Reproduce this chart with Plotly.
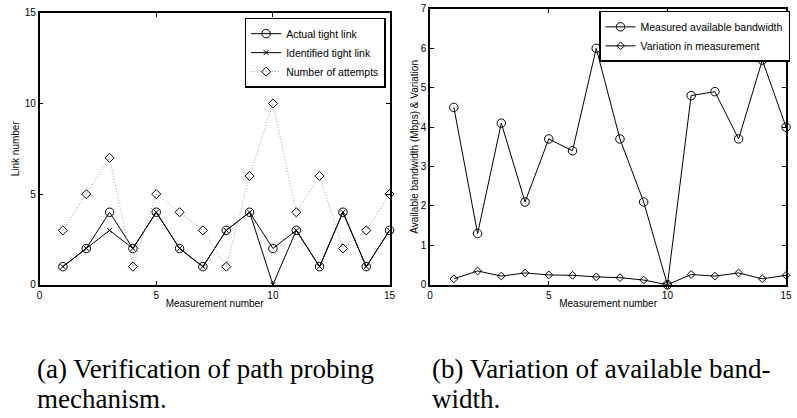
import plotly.graph_objects as go

# ---- data ----
measurement = list(range(1, 16))
actual_tight_link = [1, 2, 4, 2, 4, 2, 1, 3, 4, 2, 3, 1, 4, 1, 3]
identified_tight_link = [1, 2, 3, 2, 4, 2, 1, 3, 4, 0, 3, 1, 4, 1, 3]
number_of_attempts = [3, 5, 7, 1, 5, 4, 3, 1, 6, 10, 4, 6, 2, 3, 5]

measured_bandwidth = [4.5, 1.3, 4.1, 2.1, 3.7, 3.4, 6.0, 3.7, 2.1, 0.0, 4.8, 4.9, 3.7, 5.7, 4.0]
variation = [0.15, 0.35, 0.22, 0.30, 0.25, 0.24, 0.20, 0.18, 0.12, 0.0, 0.26, 0.22, 0.30, 0.15, 0.24]

left_ticks = [0, 5, 10, 15]
right_yticks = [0, 1, 2, 3, 4, 5, 6, 7]

W, H = 797, 418
SANS = "Liberation Sans, Arial, sans-serif"
SERIF = "Liberation Serif, Times New Roman, serif"

fig = go.Figure()

# ---- left panel ----
fig.add_trace(go.Scatter(
    x=measurement, y=actual_tight_link, name="Actual tight link",
    mode="lines+markers", line=dict(color="black", width=1),
    marker=dict(symbol="circle-open", size=8.5, color="black", line=dict(width=1)),
    xaxis="x", yaxis="y", legend="legend", cliponaxis=False))
fig.add_trace(go.Scatter(
    x=measurement, y=identified_tight_link, name="Identified tight link",
    mode="lines+markers", line=dict(color="black", width=1),
    marker=dict(symbol="x-thin-open", size=5, color="black", line=dict(width=1)),
    xaxis="x", yaxis="y", legend="legend", cliponaxis=False))
fig.add_trace(go.Scatter(
    x=measurement, y=number_of_attempts, name="Number of attempts",
    mode="lines+markers", line=dict(color="#999999", width=1, dash="1px,2px"),
    marker=dict(symbol="diamond-open", size=7, color="black", line=dict(width=1, color="black")),
    xaxis="x", yaxis="y", legend="legend", cliponaxis=False))

# ---- right panel ----
fig.add_trace(go.Scatter(
    x=measurement, y=measured_bandwidth, name="Measured available bandwidth",
    mode="lines+markers", line=dict(color="black", width=1),
    marker=dict(symbol="circle-open", size=8.5, color="black", line=dict(width=1)),
    xaxis="x2", yaxis="y2", legend="legend2", cliponaxis=False))
fig.add_trace(go.Scatter(
    x=measurement, y=variation, name="Variation in measurement",
    mode="lines+markers", line=dict(color="black", width=1),
    marker=dict(symbol="diamond-open", size=6, color="black", line=dict(width=1)),
    xaxis="x2", yaxis="y2", legend="legend2", cliponaxis=False))

def px_x(p):
    return p / W

def px_y(p):
    return 1 - p / H

axis_common = dict(
    showline=True, linecolor="black", linewidth=1.5, mirror="ticks",
    ticks="inside", ticklen=4, tickwidth=1, tickcolor="black",
    showgrid=False, zeroline=False,
    tickfont=dict(family=SANS, size=10, color="black"),
)

fig.update_layout(
    width=W, height=H,
    margin=dict(l=0, r=0, t=0, b=0),
    paper_bgcolor="white", plot_bgcolor="white",
    xaxis=dict(domain=[px_x(37), px_x(391)], range=[0, 15], tickvals=left_ticks,
               anchor="y",
               title=dict(text="Measurement number", standoff=0,
                          font=dict(family=SANS, size=10, color="black")),
               **axis_common),
    yaxis=dict(domain=[px_y(287), px_y(7)], range=[0, 15], tickvals=left_ticks,
               anchor="x",
               title=dict(text="Link number", standoff=3,
                          font=dict(family=SANS, size=10, color="black")),
               **axis_common),
    xaxis2=dict(domain=[px_x(432), px_x(792)], range=[0, 15], tickvals=left_ticks,
                anchor="y2",
                title=dict(text="Measurement number", standoff=0,
                           font=dict(family=SANS, size=10, color="black")),
                **axis_common),
    yaxis2=dict(domain=[px_y(287), px_y(3)], range=[0, 7], tickvals=right_yticks,
                anchor="x2",
                title=dict(text="Available bandwidth (Mbps) & Variation", standoff=0,
                           font=dict(family=SANS, size=10, color="black")),
                **axis_common),
    legend=dict(x=px_x(387), y=px_y(12), xanchor="right", yanchor="top",
                bordercolor="black", borderwidth=1.5, bgcolor="white",
                itemwidth=30, tracegroupgap=0,
                font=dict(family=SANS, size=10.5, color="black")),
    legend2=dict(x=px_x(796), y=px_y(5), xanchor="right", yanchor="top",
                 bordercolor="black", borderwidth=1.5, bgcolor="white",
                 itemwidth=30, tracegroupgap=0,
                 font=dict(family=SANS, size=10.5, color="black")),
    showlegend=True,
)

captions = [
    ("(a) Verification of path probing", 32, 374),
    ("mechanism.", 32, 405),
    ("(b) Variation of available band-", 432, 374),
    ("width.", 432, 405),
]
for text, x, y in captions:
    fig.add_annotation(text=text, xref="paper", yref="paper",
                       x=px_x(x), y=px_y(y), xanchor="left", yanchor="middle",
                       showarrow=False,
                       font=dict(family=SERIF, size=27, color="black"))

fig.write_html("out.html")
